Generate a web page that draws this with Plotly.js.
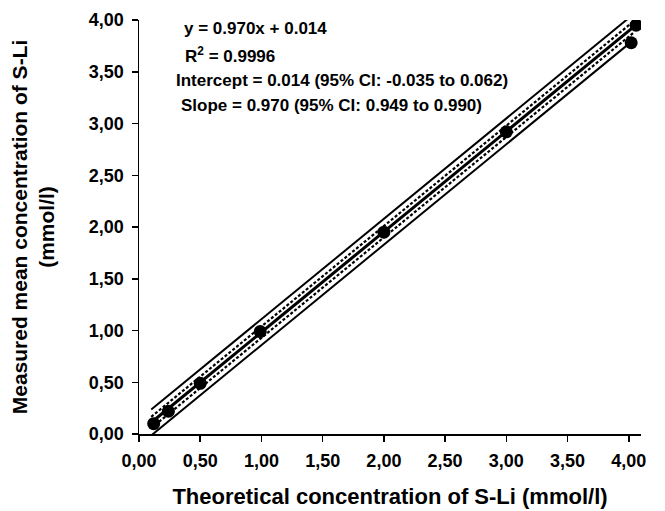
<!DOCTYPE html>
<html>
<head>
<meta charset="utf-8">
<script src="https://cdn.plot.ly/plotly-3.0.1.min.js"></script>
<style>html,body{margin:0;padding:0;background:#fff;}#chart{width:665px;height:511px;}</style>
</head>
<body>
<div id="chart"></div>
<script>
// Data points
var theoretical = [0.12, 0.24, 0.50, 0.99, 2.00, 3.00, 4.06, 4.02];
var measured    = [0.10, 0.22, 0.49, 0.99, 1.95, 2.92, 3.95, 3.78];

// Regression line and bands (end points)
var lineX      = [0.10, 4.04];
var fitY       = [0.111, 3.933];
var ciUpperY   = [0.166, 3.988];
var ciLowerY   = [0.056, 3.878];
var piUpperY   = [0.236, 4.058];
var piLowerY   = [-0.014, 3.808];

var xTicks = [0, 0.5, 1, 1.5, 2, 2.5, 3, 3.5, 4];
var yTicks = [0, 0.5, 1, 1.5, 2, 2.5, 3, 3.5, 4];

var statLines = [
  'y = 0.970x + 0.014',
  'R<sup>2</sup> = 0.9996',
  'Intercept = 0.014 (95% CI: -0.035 to 0.062)',
  'Slope = 0.970 (95% CI: 0.949 to 0.990)'
];
var statX = [0.35, 0.36, 0.285, 0.325];
var statY = [3.92, 3.66, 3.42, 3.17];

var FONT = 'Liberation Sans, Arial, sans-serif';

var traces = [
  {x: lineX, y: piUpperY, mode: 'lines', line: {color: '#000', width: 2}, hoverinfo: 'skip'},
  {x: lineX, y: piLowerY, mode: 'lines', line: {color: '#000', width: 2}, hoverinfo: 'skip'},
  {x: lineX, y: ciUpperY, mode: 'lines', line: {color: '#000', width: 2.2, dash: '3px,2px'}, hoverinfo: 'skip'},
  {x: lineX, y: ciLowerY, mode: 'lines', line: {color: '#000', width: 2.2, dash: '3px,2px'}, hoverinfo: 'skip'},
  {x: lineX, y: fitY, mode: 'lines', line: {color: '#000', width: 3}, hoverinfo: 'skip'},
  {x: theoretical, y: measured, mode: 'markers', marker: {color: '#000', size: 13, symbol: 'circle'}}
];

var annotations = statLines.map(function (t, i) {
  return {x: statX[i], y: statY[i], xref: 'x', yref: 'y', text: t, showarrow: false,
          xanchor: 'left', yanchor: 'middle',
          font: {family: FONT, size: 17, color: '#000', weight: 'bold'}};
});

var axisCommon = {
  showgrid: false, zeroline: false, showline: true, linecolor: '#000', linewidth: 1.5,
  ticks: 'outside', ticklen: 6, tickwidth: 1.5, tickcolor: '#000',
  tickformat: '.2f', ticklabelstandoff: 4,
  tickfont: {family: FONT, size: 18, color: '#000', weight: 'bold'}
};

var layout = {
  width: 665, height: 511,
  margin: {l: 139, r: 24, t: 20, b: 77},
  paper_bgcolor: '#fff', plot_bgcolor: '#fff',
  showlegend: false,
  separators: ',.',
  xaxis: Object.assign({}, axisCommon, {
    range: [0, 4.1], tickvals: xTicks,
    title: {text: 'Theoretical concentration of S-Li (mmol/l)', standoff: 18,
            font: {family: FONT, size: 22, color: '#000', weight: 'bold'}}
  }),
  yaxis: Object.assign({}, axisCommon, {
    range: [0, 4], tickvals: yTicks,
    title: {text: 'Measured mean concentration of S-Li<br>(mmol/l)', standoff: 28,
            font: {family: FONT, size: 21, color: '#000', weight: 'bold'}}
  }),
  annotations: annotations
};

Plotly.newPlot('chart', traces, layout, {staticPlot: true, displayModeBar: false});
</script>
</body>
</html>
